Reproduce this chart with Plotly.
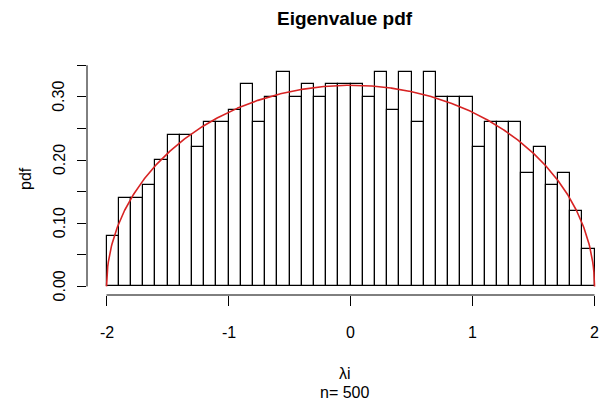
import numpy as np
import plotly.graph_objects as go

# Histogram bins (width 0.1) and density heights
bin_left = [round(-2.0 + 0.1 * i, 1) for i in range(40)]
density = [0.08, 0.14, 0.14, 0.16, 0.20, 0.24, 0.24, 0.22, 0.26, 0.26,
           0.28, 0.32, 0.26, 0.30, 0.34, 0.30, 0.32, 0.30, 0.32, 0.32,
           0.32, 0.30, 0.34, 0.28, 0.34, 0.26, 0.34, 0.30, 0.30, 0.30,
           0.22, 0.26, 0.26, 0.26, 0.18, 0.22, 0.16, 0.18, 0.12, 0.06]
bin_width = 0.1
n_obs = 500

x_ticks = [-2, -1, 0, 1, 2]
x_tick_labels = ["-2", "-1", "0", "1", "2"]
y_ticks = [0.0, 0.05, 0.10, 0.15, 0.20, 0.25, 0.30, 0.35]
y_label_vals = [0.0, 0.10, 0.20, 0.30]
y_label_text = ["0.00", "0.10", "0.20", "0.30"]

# Theoretical Wigner semicircle density (the red curve)
xc = np.linspace(-2, 2, 801)
yc = np.sqrt(np.clip(4 - xc ** 2, 0, None)) / (2 * np.pi)

FONT = "Liberation Sans, Arial, Helvetica, sans-serif"
centers = [b + bin_width / 2 for b in bin_left]

fig = go.Figure()
fig.add_trace(go.Bar(x=centers, y=density, width=bin_width,
                     marker=dict(color="white", line=dict(color="black", width=1.2)),
                     hoverinfo="skip"))
fig.add_trace(go.Scatter(x=xc, y=yc, mode="lines",
                         line=dict(color="rgb(215,35,35)", width=1.6),
                         hoverinfo="skip"))

ymax_usr = 0.34 * 1.04
ymin_usr = -0.34 * 0.04
fig.update_layout(
    width=602, height=407,
    margin=dict(l=87, r=0, t=63, b=112),
    paper_bgcolor="white", plot_bgcolor="white",
    showlegend=False,
    bargap=0,
    font=dict(family=FONT, size=16, color="black"),
    xaxis=dict(range=[-2.16, -2.16 + 515 / 122.0], showgrid=False, zeroline=False,
               showline=False, ticks="outside", tickvals=x_ticks, ticklen=10,
               tickwidth=1, tickcolor="black", showticklabels=False),
    yaxis=dict(range=[ymin_usr, ymax_usr], showgrid=False, zeroline=False,
               showline=False, ticks="outside", tickvals=y_ticks, ticklen=9,
               tickwidth=1, tickcolor="black", showticklabels=False),
)

shapes = [
    dict(type="line", xref="x", yref="paper", x0=x_ticks[0], x1=x_ticks[-1], y0=0, y1=0,
         line=dict(color="black", width=1)),
    dict(type="line", xref="paper", yref="y", x0=0, x1=0, y0=y_ticks[0], y1=y_ticks[-1],
         line=dict(color="black", width=1)),
]
fig.update_layout(shapes=shapes)

ann = []
for v, t in zip(x_ticks, x_tick_labels):
    ann.append(dict(x=v, y=0, xref="x", yref="paper", text=t, showarrow=False,
                    xanchor="center", yanchor="middle", yshift=-37,
                    font=dict(size=16)))
for v, t in zip(y_label_vals, y_label_text):
    ann.append(dict(x=0, y=v, xref="paper", yref="y", text=t, showarrow=False,
                    xanchor="center", yanchor="middle", xshift=-28, textangle=-90,
                    font=dict(size=16)))
ann.append(dict(x=0.5, y=1, xref="paper", yref="paper", text="<b>Eigenvalue pdf</b>",
                showarrow=False, xanchor="center", yanchor="middle", yshift=45,
                font=dict(size=19)))
ann.append(dict(x=0, y=0.5, xref="paper", yref="paper", text="pdf", showarrow=False,
                xanchor="center", yanchor="middle", xshift=-62, textangle=-90,
                font=dict(size=16)))
ann.append(dict(x=0.5, y=0, xref="paper", yref="paper", text="λi", showarrow=False,
                xanchor="center", yanchor="middle", yshift=-78, font=dict(size=16)))
ann.append(dict(x=0.5, y=0, xref="paper", yref="paper", text="n= %d" % n_obs,
                showarrow=False, xanchor="center", yanchor="middle", yshift=-97,
                font=dict(size=16)))
fig.update_layout(annotations=ann)

fig.write_html("out.html")
